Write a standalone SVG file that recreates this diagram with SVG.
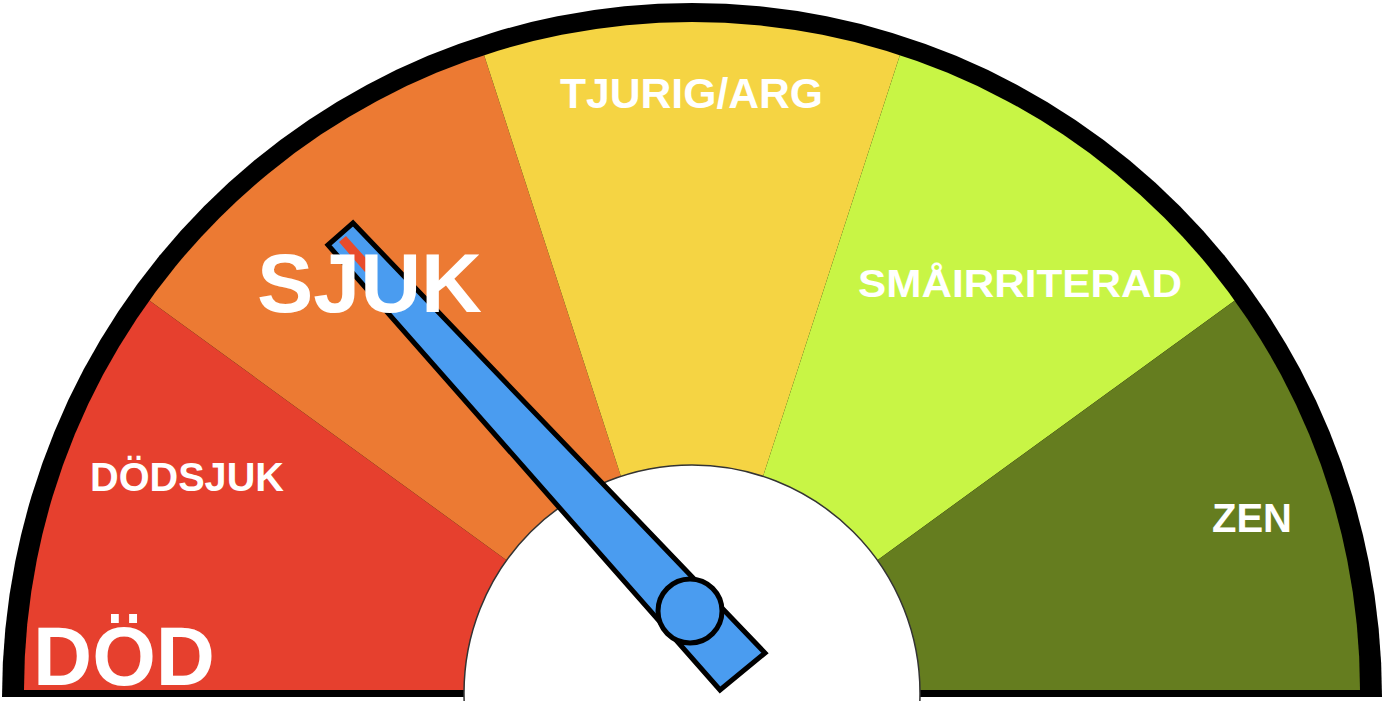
<svg xmlns="http://www.w3.org/2000/svg" width="1383" height="701" viewBox="0 0 1383 701">
<style>
.lbl{font-family:"Liberation Sans",Arial,sans-serif;font-weight:bold;fill:#ffffff}
.ndl{fill:#4A9CF0;stroke:#000;stroke-width:5;stroke-linejoin:miter}
</style>
<defs>
<clipPath id="face"><path d="M24,690 A668 668 0 0 1 1360,690 Z"/></clipPath>
</defs>
<rect width="1383" height="701" fill="#ffffff"/>
<g id="rim"><path d="M2,697 A690 694 0 0 1 1382,697 Z" fill="#000"/></g>
<g id="sectors" clip-path="url(#face)">
<path id="s-dod" d="M692,695 L-400,695 L-117,107 Z" fill="#E6402E"/>
<path id="s-sjuk" d="M692,695 L-117,107 L383,-256 Z" fill="#EC7A33"/>
<path id="s-tjurig" d="M692,695 L383,-256 L1001,-256 Z" fill="#F5D443"/>
<path id="s-sma" d="M692,695 L1001,-256 L1501,107 Z" fill="#C8F545"/>
<path id="s-zen" d="M692,695 L1501,107 L1800,695 Z" fill="#657D1F"/>
</g>
<g id="hub"><circle cx="692" cy="693" r="228" fill="#ffffff" stroke="#333" stroke-width="1.5"/></g>
<g id="needle">
<polygon class="ndl" points="328,245 353,223 765,653 720,690"/>
<polygon points="339,242 346,236 373,266 365,272" fill="#E84B2B"/>
<circle class="ndl" cx="690" cy="611" r="32"/>
</g>
<g id="labels">
<text class="lbl" x="33" y="685" font-size="84" textLength="182" lengthAdjust="spacingAndGlyphs">DÖD</text>
<text class="lbl" x="90" y="491" font-size="40" textLength="194" lengthAdjust="spacingAndGlyphs">DÖDSJUK</text>
<text class="lbl" x="257" y="312" font-size="83" textLength="225" lengthAdjust="spacingAndGlyphs">SJUK</text>
<text class="lbl" x="560" y="108" font-size="42" textLength="263" lengthAdjust="spacingAndGlyphs">TJURIG/ARG</text>
<text class="lbl" x="858" y="297" font-size="38" textLength="324" lengthAdjust="spacingAndGlyphs">SMÅIRRITERAD</text>
<text class="lbl" x="1212" y="532" font-size="41" textLength="80" lengthAdjust="spacingAndGlyphs">ZEN</text>
</g>
</svg>
